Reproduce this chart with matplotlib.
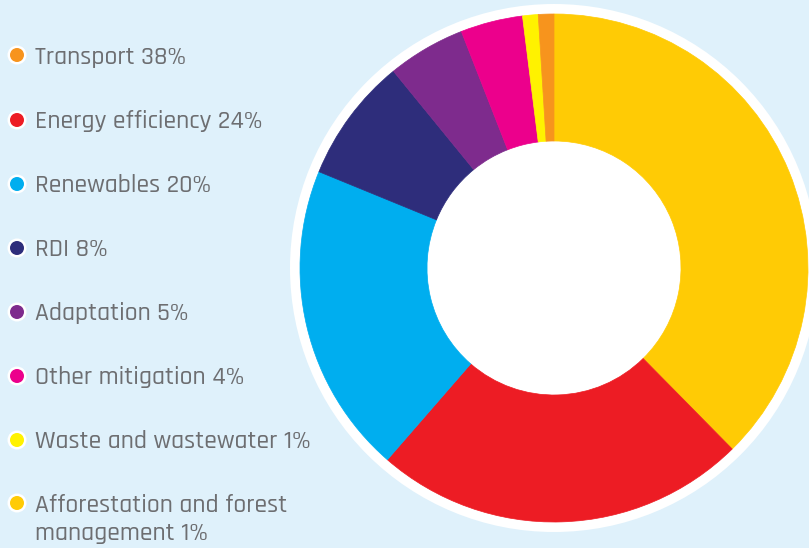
import matplotlib
matplotlib.use("Agg")
import matplotlib.pyplot as plt
from matplotlib.patches import Circle

# Shares of climate finance by sector
labels = ["Transport", "Energy efficiency", "Renewables", "RDI", "Adaptation",
          "Other mitigation", "Waste and wastewater", "Afforestation and forest\nmanagement"]
shares = [38, 24, 20, 8, 5, 4, 1, 1]

slice_colors = ["#FFCB05", "#ED1C24", "#00AEEF", "#2E2D7B", "#7E2B8D", "#EC008C", "#FFF200", "#F7941D"]
legend_colors = ["#F7941D", "#ED1C24", "#00AEEF", "#2E2D7B", "#7E2B8D", "#EC008C", "#FFF200", "#FFCB05"]

W, H = 809, 548
BG = "#DFF1FB"
TEXT = "#6D6E71"
FONT = ["Rajdhani", "DejaVu Sans"]

fig = plt.figure(figsize=(W / 100, H / 100), dpi=100, facecolor=BG)
ax = fig.add_axes([0, 0, 1, 1])

cx, cy, r = 554, H - 268, 254

# white halo behind the ring
ax.add_patch(Circle((cx, cy), r + 10, facecolor="white", edgecolor="none", zorder=0))

wedges, _ = ax.pie(shares, colors=slice_colors, startangle=90, counterclock=False,
                   center=(cx, cy), radius=r, frame=True,
                   wedgeprops=dict(width=r * 0.5, linewidth=0.5))
for w in wedges:
    w.set_edgecolor(w.get_facecolor())

ax.set_xlim(0, W)
ax.set_ylim(0, H)
ax.set_aspect("equal")
ax.axis("off")

# legend column
row_y = [55, 120, 184, 248, 312, 376, 440, 503]
line_step = 28.5
for lab, val, col, yp in zip(labels, shares, legend_colors, row_y):
    y = H - yp
    ax.add_patch(Circle((17, y), 9.5, facecolor="white", edgecolor="none", zorder=3))
    ax.add_patch(Circle((17, y), 7, facecolor=col, edgecolor="none", zorder=4))
    lines = f"{lab} {val}%".split("\n")
    for i, line in enumerate(lines):
        ax.text(35, y - 8.5 - i * line_step, line, color=TEXT, fontsize=18.5, family=FONT,
                fontweight=500, va="baseline", ha="left", zorder=5)

fig.savefig("out.png", facecolor=BG)
